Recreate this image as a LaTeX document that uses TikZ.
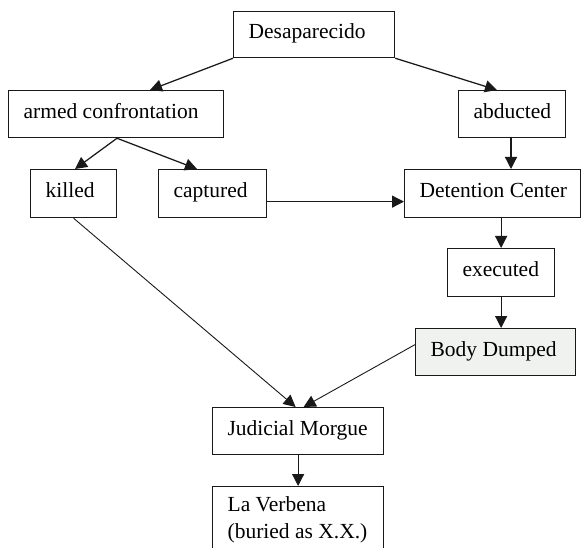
\documentclass[tikz,border=0pt]{standalone}
\usepackage{fontspec}
\setmainfont{Liberation Serif}
\usetikzlibrary{arrows.meta}
\definecolor{bodyfill}{RGB}{240,242,240}
\definecolor{ink}{RGB}{25,25,25}
\newcommand{\bxt}[2]{\makebox[#1][l]{#2}}
\begin{document}
\begin{tikzpicture}[x=1pt,y=-1pt,
  font=\fontsize{21.5}{27}\selectfont,
  box/.style={draw=ink, line width=1.25pt, anchor=north west, inner xsep=15pt, inner ysep=0pt,
    text height=0.9em, text depth=0.1em, text=black},
  arr/.style={draw=ink, line width=1.25pt, -{Triangle[length=12pt,width=12pt]}},
  thinarr/.style={draw=ink, line width=0.9pt, -{Triangle[length=12pt,width=12pt]}}]
\useasboundingbox (0,0) rectangle (581,548);
\clip (0,0) rectangle (581,548);
\node[box, minimum height=46pt] (des) at (233,11) {\bxt{131pt}{Desaparecido}};
\node[box, minimum height=47pt] (armed) at (8,90) {\bxt{185pt}{armed confrontation}};
\node[box, minimum height=47pt] (abd) at (458,90) {\bxt{77pt}{abducted}};
\node[box, minimum height=48pt] (killed) at (30,169) {\bxt{56pt}{killed}};
\node[box, minimum height=48pt] (capt) at (158,169) {\bxt{78pt}{captured}};
\node[box, minimum height=48pt] (det) at (404,169) {\bxt{146pt}{Detention Center}};
\node[box, minimum height=48pt] (exe) at (447,248) {\bxt{77pt}{executed}};
\node[box, minimum height=47pt, fill=bodyfill] (body) at (415,328) {\bxt{130pt}{Body Dumped}};
\node[box, minimum height=47pt] (morgue) at (212,407) {\bxt{141pt}{Judicial Morgue}};
\node[box, inner ysep=10pt, text height=14.7pt, text depth=40pt] (verb) at (212,486)
  {\parbox[t]{141pt}{\raggedright La Verbena\\(buried as X.X.)}};
\draw[arr] (des.south west) -- ([xshift=142pt]armed.north west);
\draw[arr] (des.south east) -- ([xshift=39pt]abd.north west);
\draw[arr] ([xshift=109pt]armed.south west) -- ([xshift=45pt]killed.north west);
\draw[arr] ([xshift=109pt]armed.south west) -- ([xshift=39pt]capt.north west);
\draw[arr] ([xshift=53pt]abd.south west) -- ([xshift=107pt]det.north west);
\draw[arr] ([yshift=-8pt]capt.east) -- ([yshift=-8pt]det.west);
\draw[arr] (exe.north |- det.south) -- (exe.north);
\draw[arr] (exe.south) -- (exe.south |- body.north);
\draw[thinarr] (killed.south) -- ([xshift=-2.5pt]morgue.north);
\draw[thinarr] ([yshift=7.5pt]body.west) -- ([xshift=5.5pt]morgue.north);
\draw[arr] (morgue.south) -- (verb.north);
\end{tikzpicture}
\end{document}
